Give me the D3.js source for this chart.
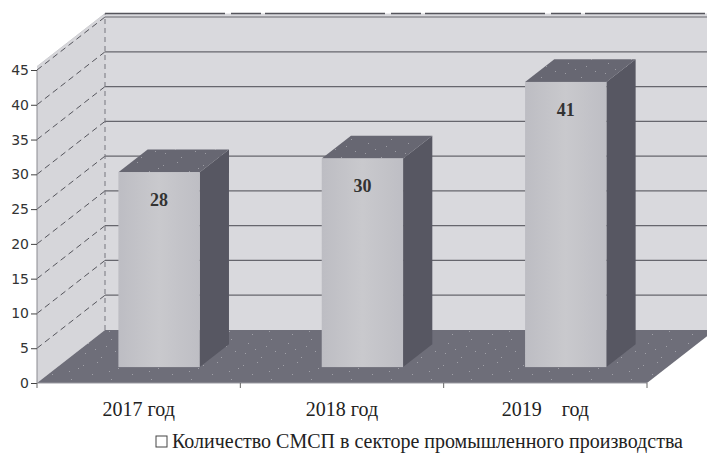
<!DOCTYPE html>
<html><head><meta charset="utf-8">
<script src="https://cdn.jsdelivr.net/npm/d3@7"></script>
<style>html,body{margin:0;padding:0;background:#fff;}svg{display:block;}</style>
</head><body>
<svg id="c" width="707" height="468"></svg>
<script>
const categories = ["2017 год", "2018 год", "2019    год"];
const values = [28, 30, 41];
const yTicks = [0, 5, 10, 15, 20, 25, 30, 35, 40, 45];
const legendLabel = "Количество СМСП в секторе промышленного производства";

const svg = d3.select("#c");
const DX = 68, DY = 53;          // depth offset of the back wall
const x = d3.scaleBand().domain(categories).range([37, 647]).padding(0);
const y = d3.scaleLinear().domain([0, 45]).range([383, 70]);
const wallTop = 45.5;
const P = (px, v, d) => [px + d * DX, y(v) - d * DY];
const poly = pts => "M" + pts.map(p => p.join(",")).join("L") + "Z";

// noise texture
const defs = svg.append("defs");
const pat = defs.append("pattern").attr("id","noise").attr("width",40).attr("height",40).attr("patternUnits","userSpaceOnUse");
const seeds = [[3,5],[17,2],[29,11],[8,23],[35,31],[21,37],[12,14],[26,26],[5,33],[38,8],[15,29],[31,19]];
seeds.forEach(s => pat.append("rect").attr("x",s[0]).attr("y",s[1]).attr("width",1).attr("height",1).attr("fill","#fff").attr("opacity",0.35));
const gFront = defs.append("linearGradient").attr("id","front").attr("x1",0).attr("x2",1);
gFront.append("stop").attr("offset","0").attr("stop-color","#bdbdc3");
gFront.append("stop").attr("offset","0.5").attr("stop-color","#c9c9cd");
gFront.append("stop").attr("offset","1").attr("stop-color","#bebec4");

const x0 = x.range()[0], x1 = x.range()[1];
// back wall
svg.append("path").attr("d", poly([P(x0,0,1), P(x0,wallTop,1), P(x1+60,wallTop,1), P(x1+60,0,1)]))
  .attr("fill","#d9d9dd");
// left wall
svg.append("path").attr("d", poly([P(x0,0,0), P(x0,wallTop,0), P(x0,wallTop,1), P(x0,0,1)]))
  .attr("fill","#d6d6da");
// back wall top line
svg.append("line").attr("x1",P(x0,wallTop,1)[0]).attr("y1",P(x0,wallTop,1)[1]).attr("x2",720).attr("y2",P(x0,wallTop,1)[1])
  .attr("stroke","#55555c").attr("stroke-width",1.5).attr("stroke-dasharray","120,6,30,4");
// gridlines
yTicks.filter(t => t > 0).forEach(t => {
  const a = P(x0,t,0), b = P(x0,t,1);
  svg.append("line").attr("x1",a[0]).attr("y1",a[1]).attr("x2",b[0]).attr("y2",b[1])
    .attr("stroke","#55555c").attr("stroke-width",1).attr("stroke-dasharray","6,4");
  svg.append("line").attr("x1",b[0]).attr("y1",b[1]).attr("x2",720).attr("y2",b[1])
    .attr("stroke","#66666d").attr("stroke-width",1.2);
});
// back-left corner vertical
svg.append("line").attr("x1",P(x0,0,1)[0]).attr("y1",P(x0,0,1)[1]).attr("x2",P(x0,wallTop,1)[0]).attr("y2",P(x0,wallTop,1)[1])
  .attr("stroke","#77777e").attr("stroke-dasharray","5,4");
// left wall top edge
svg.append("line").attr("x1",P(x0,wallTop,0)[0]).attr("y1",P(x0,wallTop,0)[1]).attr("x2",P(x0,wallTop,1)[0]).attr("y2",P(x0,wallTop,1)[1])
  .attr("stroke","#cfcfd3").attr("stroke-width",1);
// floor
svg.append("path").attr("d", poly([P(x0,0,0), P(x1,0,0), P(x1,0,1), P(x0,0,1)])).attr("fill","#6e6e79");
svg.append("path").attr("d", poly([P(x0,0,0), P(x1,0,0), P(x1,0,1), P(x0,0,1)])).attr("fill","url(#noise)");

// bars
const d0 = 0.30, d1 = 0.73;
const bw = x.bandwidth() * 0.4;
values.forEach((v, i) => {
  const cx = x(categories[i]) + x.bandwidth() / 2;
  const L = cx - bw / 2, R = cx + bw / 2;
  svg.append("path").attr("d", poly([P(R,0,d0), P(R,v,d0), P(R,v,d1), P(R,0,d1)])).attr("fill","#575762");
  svg.append("path").attr("d", poly([P(L,v,d0), P(R,v,d0), P(R,v,d1), P(L,v,d1)])).attr("fill","#676772");
  svg.append("path").attr("d", poly([P(L,v,d0), P(R,v,d0), P(R,v,d1), P(L,v,d1)])).attr("fill","url(#noise)");
  const f0 = P(L,0,d0), f1 = P(R,v,d0);
  svg.append("rect").attr("x",f0[0]).attr("y",f1[1]).attr("width",f1[0]-f0[0]).attr("height",f0[1]-f1[1])
    .attr("fill","url(#front)");
  svg.append("text").attr("x",(f0[0]+f1[0])/2).attr("y",f1[1]+34).attr("text-anchor","middle")
    .attr("font-family","Liberation Serif, Times New Roman, serif").attr("font-weight","bold").attr("font-size",18)
    .attr("fill","#333").text(v);
});

// y axis
svg.append("line").attr("x1",x0).attr("x2",x0).attr("y1",y(0)).attr("y2",y(45)).attr("stroke","#8a8a90");
const ya = svg.append("g").attr("transform",`translate(${x0},0)`)
  .call(d3.axisLeft(y).tickValues(yTicks).tickSize(6).tickPadding(2));
ya.select(".domain").remove();
ya.selectAll("line").attr("stroke","#444");
ya.selectAll("text").attr("font-family","DejaVu Sans, sans-serif").attr("font-size",14).attr("fill","#333");

// x axis
svg.append("line").attr("x1",x0).attr("x2",x1).attr("y1",y(0)).attr("y2",y(0)).attr("stroke","#9a9aa2");
const xa = svg.append("g").attr("transform",`translate(0,${y(0)})`)
  .call(d3.axisBottom(x).tickSize(0).tickPadding(19));
xa.select(".domain").remove();
xa.selectAll("text").attr("font-family","Liberation Serif, Times New Roman, serif").attr("font-size",20)
  .attr("fill","#222").style("white-space","pre");
[x0, ...categories.map(c => x(c) + x.bandwidth())].forEach(t => {
  svg.append("line").attr("x1",t).attr("x2",t).attr("y1",y(0)).attr("y2",y(0)+5).attr("stroke","#666");
});

// legend
const lg = svg.append("g");
lg.append("rect").attr("x",156).attr("y",436).attr("width",11).attr("height",11).attr("fill","#fff").attr("stroke","#444");
lg.append("text").attr("x",172).attr("y",448).attr("font-family","Liberation Serif, Times New Roman, serif")
  .attr("font-size",20).attr("fill","#222").text(legendLabel);
</script>
</body></html>
